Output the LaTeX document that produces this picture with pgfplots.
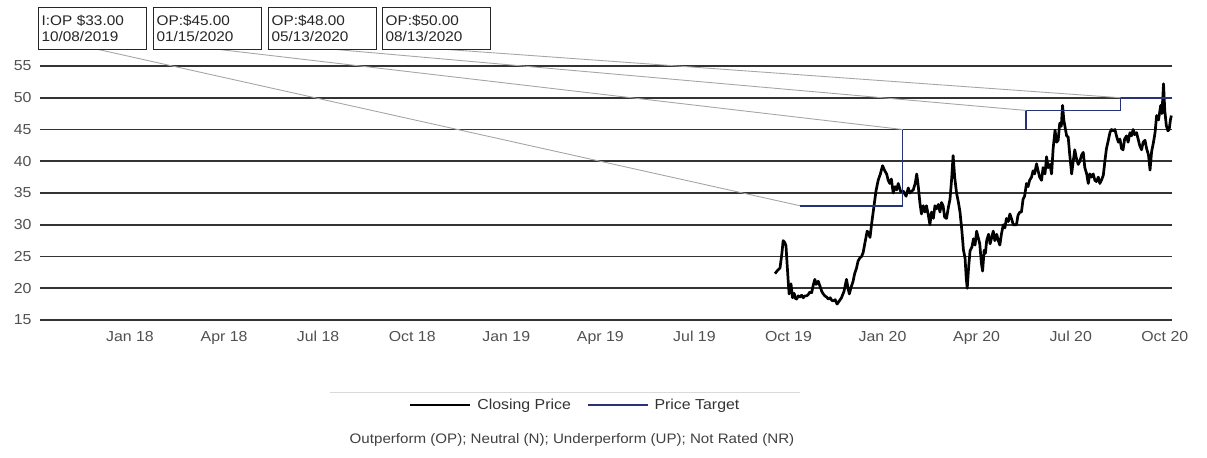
\documentclass[border=0pt]{standalone}
\usepackage{fontspec}
\setmainfont{Liberation Sans}[FakeStretch=1.1]
\usepackage{pgfplots}
\pgfplotsset{compat=1.18}
\definecolor{navy}{RGB}{40,50,120}
\definecolor{tickgray}{RGB}{80,80,80}
\begin{document}
\begin{tikzpicture}[font=\fontsize{14}{16}\selectfont]
\begin{axis}[
  scale only axis, width=1132bp, height=254bp,
  xmin=-2.87, xmax=33.23, ymin=15, ymax=55,
  axis line style={draw=none}, tick style={draw=none},
  ytick={15,20,...,55},
  xtick={0,3,...,33},
  xticklabels={Jan 18,Apr 18,Jul 18,Oct 18,Jan 19,Apr 19,Jul 19,Oct 19,Jan 20,Apr 20,Jul 20,Oct 20},
  ymajorgrids, grid style={black!80, line width=1.7bp},
  /pgf/number format/assume math mode=true,
  ticklabel style={text=tickgray, font=\fontsize{14.5}{16}\selectfont},
  xticklabel style={yshift=-8bp},
  yticklabel style={xshift=-5bp},
  clip=false,
  legend style={at={(axis description cs:0.4726,-0.335)}, anchor=center, draw=none, fill=none,
    legend columns=2, font=\fontsize{14.5}{16}\selectfont, text=black!80,
    /tikz/every even column/.append style={column sep=14bp}},
  legend image code/.code={\draw[#1] (0bp,0bp) -- (60bp,0bp); \path (64bp,0bp);},
]
\addplot[black, line width=2.7bp, line join=round] coordinates {
(20.57,22.3) (20.65,22.8) (20.73,23.2) (20.79,25.5) (20.83,27.5) (20.88,27.2) (20.92,26.7) (20.96,23.5) (20.99,21.2) (21.02,19.1) (21.08,20.7) (21.13,18.5) (21.18,19.2) (21.22,18.4) (21.26,18.3) (21.31,18.8) (21.36,18.6) (21.42,18.9) (21.47,18.5) (21.52,18.8) (21.58,18.8) (21.63,19.0) (21.68,19.4) (21.74,19.3) (21.79,20.5) (21.84,21.4) (21.88,20.6) (21.95,21.1) (22.02,20.1) (22.06,19.5) (22.11,19.1) (22.16,18.8) (22.22,18.6) (22.27,18.3) (22.33,18.5) (22.38,18.1) (22.43,18.0) (22.49,18.2) (22.55,17.5) (22.62,18.0) (22.69,18.5) (22.77,19.5) (22.85,21.4) (22.90,20.0) (22.94,19.1) (23.00,20.2) (23.06,21.1) (23.11,22.3) (23.17,23.2) (23.22,24.3) (23.28,24.8) (23.33,25.0) (23.38,25.6) (23.44,27.2) (23.51,29.0) (23.56,28.6) (23.60,28.0) (23.65,30.1) (23.72,32.7) (23.79,35.3) (23.86,37.0) (23.93,38.0) (24.00,39.3)
(24.07,38.5) (24.13,38.0) (24.18,37.0) (24.23,36.5) (24.28,37.2) (24.34,35.0) (24.40,36.0) (24.45,35.5) (24.50,36.5) (24.58,35.2) (24.66,35.3) (24.75,34.5) (24.82,35.8) (24.87,35.0) (24.98,35.5) (25.04,36.5) (25.09,38.0) (25.14,36.0) (25.19,33.5) (25.24,31.7) (25.30,33.0) (25.35,32.0) (25.40,33.0) (25.46,31.5) (25.51,30.0) (25.56,32.0) (25.62,31.0) (25.67,33.0) (25.72,32.5) (25.78,33.2) (25.83,32.0) (25.88,33.5) (25.93,33.0) (25.98,31.2) (26.04,31.0) (26.09,32.5) (26.15,34.0) (26.20,37.0) (26.25,40.9) (26.30,37.5) (26.36,35.0) (26.42,33.5) (26.47,32.0) (26.53,29.0) (26.58,26.0) (26.63,24.8) (26.67,21.5) (26.70,20.0) (26.74,23.0) (26.79,25.9) (26.85,26.5) (26.90,27.8) (26.95,26.8) (27.00,29.0) (27.05,28.0) (27.10,27.0) (27.15,24.0) (27.19,22.7) (27.24,26.0) (27.28,25.5) (27.32,27.5) (27.38,28.5) (27.43,27.0) (27.48,28.0) (27.53,29.0) (27.58,27.5) (27.64,28.5) (27.69,27.5) (27.74,26.8) (27.79,28.5) (27.85,30.0) (27.90,29.5) (27.95,31.0) (28.01,30.5) (28.06,31.7) (28.11,31.0) (28.17,30.0) (28.22,30.0) (28.27,30.0) (28.32,31.5) (28.38,32.0) (28.43,32.0) (28.48,34.0) (28.53,34.5) (28.59,36.5) (28.64,36.0) (28.69,37.0) (28.75,37.5) (28.80,38.5) (28.85,38.0) (28.91,39.6) (28.96,38.5) (29.01,37.5) (29.07,37.0) (29.12,39.0) (29.18,38.0) (29.23,40.7) (29.28,39.0) (29.34,39.5) (29.39,38.0) (29.44,42.0) (29.50,44.9) (29.55,43.0) (29.60,43.3) (29.65,46.0) (29.70,45.5) (29.74,48.8) (29.78,46.5) (29.82,45.4) (29.87,44.0) (29.92,43.8) (29.97,41.0) (30.03,38.0) (30.08,40.0) (30.13,41.8) (30.18,40.5) (30.24,39.5) (30.29,40.0) (30.35,41.0) (30.40,41.4) (30.45,39.0) (30.51,38.0) (30.56,36.5) (30.61,38.0) (30.66,37.5) (30.72,38.0) (30.77,37.0) (30.82,36.8) (30.88,37.5) (30.93,36.5) (30.98,37.0) (31.04,37.8) (31.09,40.0) (31.14,42.0) (31.20,43.3) (31.25,44.5) (31.30,45.0) (31.36,44.8) (31.41,45.0) (31.46,44.0) (31.52,43.0) (31.57,43.5) (31.62,42.0) (31.67,41.8) (31.72,43.5) (31.78,44.0) (31.83,43.0) (31.89,44.5) (31.94,44.0) (31.99,45.0) (32.04,44.2) (32.10,44.5) (32.15,43.5) (32.20,42.5) (32.26,41.8) (32.31,43.0) (32.37,43.3) (32.42,42.0) (32.48,41.0) (32.53,38.6) (32.58,41.5) (32.64,43.0) (32.69,44.5) (32.74,47.2) (32.80,46.5) (32.87,48.8) (32.91,47.5) (32.96,52.2) (33.00,48.0) (33.05,45.6) (33.10,44.8) (33.14,45.0) (33.18,46.5) (33.21,47.2)
};
\addlegendentry{Closing Price}
\addplot[navy, line width=1.7bp] coordinates {
(21.36,33) (24.64,33) (24.64,45) (28.58,45) (28.58,48) (31.59,48) (31.59,50) (33.21,50)
};
\addlegendentry{Price Target}
\coordinate (t1) at (axis cs:21.36,33);
\coordinate (t2) at (axis cs:24.64,45);
\coordinate (t3) at (axis cs:28.58,48);
\coordinate (t4) at (axis cs:31.59,50);
\end{axis}
\begin{scope}[gray!70, line width=0.9bp]
\draw (56bp,271bp) -- (t1);
\draw (175bp,271bp) -- (t2);
\draw (290bp,271bp) -- (t3);
\draw (400bp,271bp) -- (t4);
\end{scope}
\begin{scope}[every node/.style={draw=black!85, fill=white, line width=1.2bp, anchor=north west, minimum width=108bp, minimum height=42bp, text width=102bp, inner sep=2bp, align=left, text=black!85, font=\fontsize{14}{16}\selectfont}]
\node at (-2bp,313bp) {I:OP \$33.00\\10/08/2019};
\node at (113bp,313bp) {OP:\$45.00\\01/15/2020};
\node at (228bp,313bp) {OP:\$48.00\\05/13/2020};
\node at (342bp,313bp) {OP:\$50.00\\08/13/2020};
\end{scope}
\draw[black!15, line width=1bp] (290bp,-72bp) -- (760bp,-72bp);
\node[text=black!75, font=\fontsize{13.8}{15}\selectfont] at (532bp,-120bp) {Outperform (OP); Neutral (N); Underperform (UP); Not Rated (NR)};
\pgfresetboundingbox
\useasboundingbox (-40bp,-138bp) rectangle (1167bp,320bp);
\end{tikzpicture}
\end{document}
